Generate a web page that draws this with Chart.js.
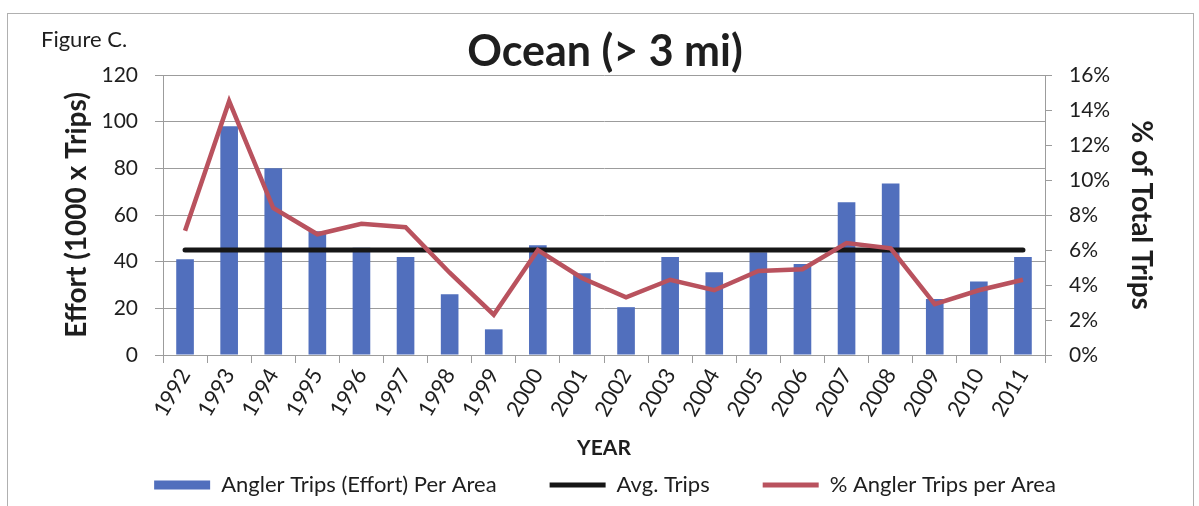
<!DOCTYPE html>
<html>
<head>
<meta charset="utf-8">
<script src="https://cdn.jsdelivr.net/npm/chart.js@4/dist/chart.umd.min.js"></script>
<style>
  html, body { margin: 0; padding: 0; background: #fff; }
  #wrap { width: 1199px; height: 506px; }
</style>
</head>
<body>
<div id="wrap"><canvas id="chart" width="1199" height="506"></canvas></div>
<script>
const years = ["1992", "1993", "1994", "1995", "1996", "1997", "1998", "1999", "2000", "2001",
  "2002", "2003", "2004", "2005", "2006", "2007", "2008", "2009", "2010", "2011"];
// angler trips per area, 1000 x trips
const anglerTrips = [41, 98, 80, 53, 46, 42, 26, 11, 47, 35, 20.5, 42, 35.5, 44, 39, 65.5, 73.5, 24, 31.5, 42];
// average trips line
const avgTrips = [45, 45, 45, 45, 45, 45, 45, 45, 45, 45, 45, 45, 45, 45, 45, 45, 45, 45, 45, 45];
// % of total trips
const pctTrips = [7.1, 14.5, 8.4, 6.9, 7.5, 7.3, 4.7, 2.3, 6.0, 4.4, 3.3, 4.3, 3.7, 4.8, 4.9, 6.4, 6.1, 2.9, 3.7, 4.3];
const effortTicks = { min: 0, max: 120, step: 20 };
const pctTicks = { min: 0, max: 16, step: 2 };

const FONT = "Lato, 'Open Sans', sans-serif";
const gridGray = "#9c9c9c";
const textColor = "#1e1e1e";

// frame + "Figure C." label
const framePlugin = {
  id: "frame",
  afterDraw(chart) {
    const ctx = chart.ctx;
    ctx.save();
    ctx.strokeStyle = "#b0b0b0";
    ctx.lineWidth = 1;
    ctx.strokeRect(7.5, 13.5, 1186, 520);
    ctx.fillStyle = textColor;
    ctx.font = "22px " + FONT;
    ctx.textBaseline = "middle";
    ctx.textAlign = "left";
    ctx.fillText("Figure C.", 41, 40);
    ctx.restore();
  }
};

new Chart(document.getElementById("chart"), {
  type: "bar",
  data: {
    labels: years,
    datasets: [
      {
        label: "Angler Trips (Effort) Per Area",
        data: anglerTrips,
        backgroundColor: "#516fbd",
        categoryPercentage: 1,
        barPercentage: 0.4,
        yAxisID: "y",
        order: 3
      },
      {
        type: "line",
        label: "Avg. Trips",
        data: avgTrips,
        borderColor: "#161616",
        backgroundColor: "#161616",
        borderWidth: 5,
        pointRadius: 0,
        borderCapStyle: "round",
        yAxisID: "y",
        order: 2
      },
      {
        type: "line",
        label: "% Angler Trips per Area",
        data: pctTrips,
        borderColor: "#b9525e",
        backgroundColor: "#b9525e",
        borderWidth: 4.5,
        pointRadius: 0,
        tension: 0,
        yAxisID: "y1",
        order: 1
      }
    ]
  },
  options: {
    responsive: false,
    animation: false,
    layout: { padding: { left: 11, right: 0, top: 0, bottom: 0 } },
    plugins: {
      tooltip: { enabled: false },
      title: {
        display: true,
        text: "Ocean (> 3 mi)",
        color: textColor,
        font: { family: FONT, size: 43, weight: "bold", lineHeight: 1 },
        padding: { top: 30.5, bottom: 1.5 }
      },
      legend: {
        position: "bottom",
        labels: {
          color: textColor,
          font: { family: FONT, size: 22 },
          usePointStyle: true,
          pointStyleWidth: 56,
          boxHeight: 9,
          padding: 53,
          sort: (a, b) => a.datasetIndex - b.datasetIndex,
          generateLabels(chart) {
            const items = Chart.defaults.plugins.legend.labels.generateLabels(chart);
            items.forEach((item) => {
              if (item.datasetIndex === 0) {
                item.pointStyle = "rect";
                item.lineWidth = 0;
              } else {
                item.pointStyle = "line";
                item.lineWidth = 5;
              }
            });
            return items;
          }
        }
      }
    },
    scales: {
      x: {
        grid: { display: true, drawOnChartArea: false, drawTicks: true, tickLength: 8, color: gridGray },
        border: { color: gridGray },
        ticks: { color: textColor, font: { family: FONT, size: 22 }, minRotation: 60, maxRotation: 60, padding: 1 },
        title: {
          display: true,
          text: "YEAR",
          color: textColor,
          font: { family: FONT, size: 21, weight: "bold" },
          padding: { top: 0, bottom: -39.6 }
        },
        afterFit(scale) { scale.height = 66; }
      },
      y: {
        position: "left",
        min: effortTicks.min,
        max: effortTicks.max,
        grid: { color: gridGray, tickLength: 8 },
        border: { color: gridGray },
        ticks: { stepSize: effortTicks.step, color: textColor, font: { family: FONT, size: 21 }, padding: 17 },
        title: {
          display: true,
          text: "Effort (1000 x Trips)",
          color: textColor,
          font: { family: FONT, size: 28, weight: "bold" },
          padding: { top: 49.2, bottom: 0 }
        },
        afterFit(scale) { scale.width = 152; }
      },
      y1: {
        position: "right",
        min: pctTicks.min,
        max: pctTicks.max,
        grid: { drawOnChartArea: false, color: gridGray, tickLength: 7 },
        border: { color: gridGray },
        ticks: {
          stepSize: pctTicks.step,
          color: textColor,
          font: { family: FONT, size: 21 },
          padding: 17,
          callback: (v) => v + "%"
        },
        title: {
          display: true,
          text: "% of Total Trips",
          color: textColor,
          font: { family: FONT, size: 28, weight: "bold" },
          padding: { top: 41.2, bottom: 0 }
        },
        afterFit(scale) { scale.width = 154; }
      }
    }
  },
  plugins: [framePlugin]
});
</script>
</body>
</html>
